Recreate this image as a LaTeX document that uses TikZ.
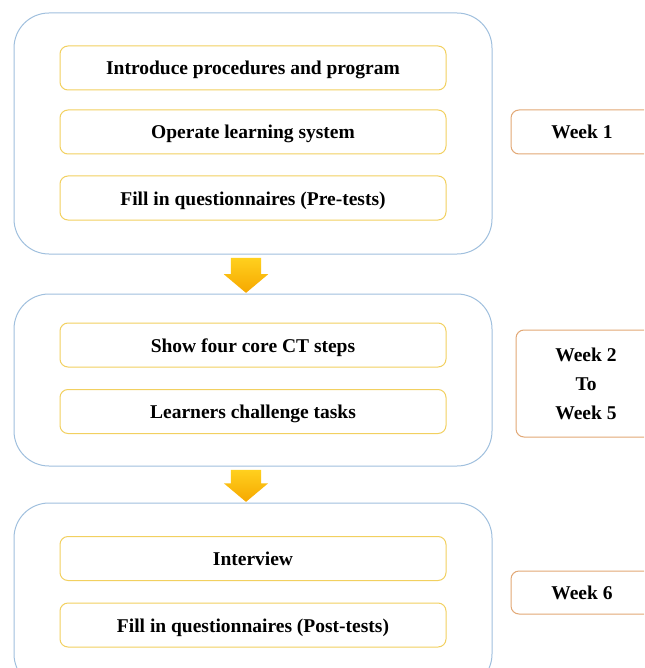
\documentclass[tikz,border=0pt]{standalone}
\usepackage{fontspec}
\setmainfont{Liberation Serif}
\usetikzlibrary{shapes.arrows,calc}
\definecolor{phaseblue}{RGB}{160,192,222}
\definecolor{stepyellow}{RGB}{242,208,96}
\definecolor{weekorange}{RGB}{226,168,118}
\definecolor{arrowtop}{RGB}{255,208,30}
\definecolor{arrowbot}{RGB}{246,168,0}
\begin{document}
\begin{tikzpicture}[
        x=1pt, y=-1pt,
        every node/.style={font=\fontsize{19.5}{29}\selectfont\bfseries, inner sep=0pt},
        phase/.style={draw=phaseblue, line width=1pt, rounded corners=35pt, minimum width=478pt},
        stepbox/.style={draw=stepyellow, line width=1pt, rounded corners=8pt, minimum width=386pt, minimum height=44pt,
            text height=16pt, text depth=2pt},
        weekbox/.style={draw=weekorange, line width=1pt, rounded corners=8pt, align=center},
        down/.style={single arrow, shape border rotate=270, draw=none, top color=arrowtop, bottom color=arrowbot,
            inner xsep=15pt, inner ysep=0pt, single arrow head extend=7pt, single arrow tip angle=100,
            xshift=-7pt, yshift=5pt},
    ]
    \clip (0,0) rectangle (644,668);
    \fill[white] (0,0) rectangle (644,668);
    % phases
    \node[phase, minimum height=241pt](phase1) at (253,133.5){};
    \node[phase, minimum height=172pt](phase2) at (253,380){};
    \node[phase, minimum height=186pt](phase3) at (253,596){};
    % steps
    \node[stepbox](intro) at (253,68){Introduce procedures and program};
    \node[stepbox](operate) at (253,132){Operate learning system};
    \node[stepbox](pretest) at (253,198){Fill in questionnaires (Pre-tests)};
    \node[stepbox](ctsteps) at (253,345){Show four core CT steps};
    \node[stepbox](tasks) at (253,411.5){Learners challenge tasks};
    \node[stepbox](interview) at (253,558.5){Interview};
    \node[stepbox](posttest) at (253,625){Fill in questionnaires (Post-tests)};
    % weeks
    \node[weekbox, minimum width=142pt, minimum height=44pt, text height=16pt, text depth=2pt](week1) at (582,132){Week 1};
    \node[weekbox, minimum width=140pt, minimum height=107pt, text depth=0pt](week25) at (586,383.5){Week 2\\To\\Week 5};
    \node[weekbox, minimum width=142pt, minimum height=43pt, text height=16pt, text depth=2pt](week6) at (582,592.5){Week 6};
    % arrows
    \node[down, minimum height=35pt](arrow1) at ($(phase1.south)!0.5!(phase2.north)$){};
    \node[down, minimum height=32pt](arrow2) at ($(phase2.south)!0.5!(phase3.north)$){};
\end{tikzpicture}
\end{document}
